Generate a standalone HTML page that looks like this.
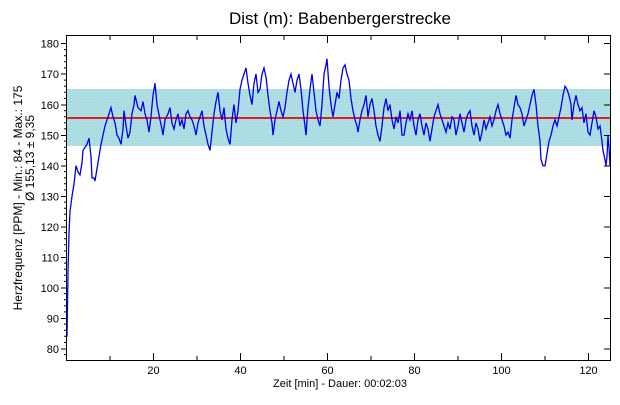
<!DOCTYPE html>
<html><head><style>
body{margin:0;background:#fff;}
svg text{font-family:"Liberation Sans",sans-serif;font-size:11px;fill:#000}
</style></head><body>
<svg width="620" height="400" viewBox="0 0 620 400" xmlns="http://www.w3.org/2000/svg">
<defs>
<pattern id="dots" width="3" height="3" patternUnits="userSpaceOnUse">
<rect width="3" height="3" fill="#a8dde4"/><rect x="0" y="0" width="1" height="1" fill="#c8c8f0"/><rect x="2" y="1" width="1" height="1" fill="#b0f0d0"/>
</pattern>
</defs>
<text x="340" y="24" text-anchor="middle" style="font-size:17px">Dist (m): Babenbergerstrecke</text>
<rect x="67" y="89" width="544" height="57" fill="url(#dots)"/>
<line x1="67" y1="118" x2="611" y2="118" stroke="#e02020" stroke-width="2"/>
<g transform="translate(0,593.4) scale(1,-3.055)">
<polyline fill="none" stroke="#0000ee" stroke-width="1.3" vector-effect="non-scaling-stroke" points="
67,84 68,105 69,118 70,125 72,130 74,134 76,140 78,138 80,137 82,141 83,145 85,146 87,147 89,149 91,143 92,136 94,136 95,135 97,139 99,143 101,147 103,150 105,153 107,155 109,157 111,159 113,156 115,154 117,150 119,149 121,147 123,152 124,158 126,153 128,149 130,151 132,157 134,160 135,163 138,159 141,158 143,161 145,157 147,155 149,151 151,156 153,163 155,167 157,160 160,155 162,152 163,150 165,155 168,157 170,159 172,154 174,152 176,155 178,157 180,153 182,155 184,152 186,157 188,158 190,156 192,155 194,153 196,150 198,154 200,156 202,158 204,153 206,150 208,147 210,145 212,151 214,157 216,161 218,164 220,158 222,155 224,159 226,152 228,149 230,147 232,155 234,160 236,154 238,158 240,165 242,168 244,170 246,172 248,167 250,163 252,160 254,167 256,170 258,164 260,165 262,170 264,172 266,169 268,163 270,158 272,154 273,150 275,155 277,158 279,161 281,158 283,156 285,159 287,164 289,168 291,170 293,167 295,164 297,168 299,170 301,165 303,158 305,153 306,150 308,159 310,165 312,170 314,164 316,158 318,155 320,153 322,160 324,170 326,173 327,175 329,166 331,160 333,156 335,160 337,164 339,162 341,168 343,172 345,173 347,170 349,168 351,162 353,158 355,155 357,153 358,151 360,155 362,158 364,160 366,163 368,156 370,160 372,162 374,158 376,153 378,150 380,148 382,153 384,159 386,162 388,158 390,160 392,155 394,152 396,156 398,154 400,158 402,150 404,150 406,154 408,157 410,155 412,158 414,153 416,150 418,155 420,157 422,153 424,150 426,154 428,152 430,148 432,152 434,156 436,158 438,160 440,157 442,155 444,153 446,151 448,154 450,152 452,156 454,155 456,150 458,153 460,157 462,154 464,151 466,155 468,157 470,158 472,153 474,150 476,154 478,152 480,148 482,151 484,155 486,152 488,154 490,156 492,153 494,155 496,158 498,160 500,157 502,155 504,153 506,150 508,151 510,149 512,155 514,159 516,163 518,160 520,159 522,157 524,153 526,155 528,157 530,160 532,163 534,165 536,160 538,153 540,148 541,142 543,140 545,140 547,144 549,148 551,150 553,153 555,155 557,153 559,156 561,159 563,163 565,166 567,165 569,163 571,160 572,155 574,160 576,163 578,160 580,158 582,159 584,154 586,157 588,151 590,150 592,154 594,158 596,156 598,152 600,153 602,148 603,145 605,142 606,140 607,143 608,150 609,146 610,140"/>
</g>
<rect x="66.5" y="35.5" width="544" height="325" fill="none" stroke="#000" stroke-width="1"/>
<g stroke="#000" stroke-width="1">
<!-- y ticks -->
<path d="M61,43.5H67 M61,74H67 M61,105H67 M61,135.5H67 M61,166H67 M61,196.5H67 M61,227H67 M61,257.5H67 M61,288H67 M61,318.5H67 M61,349H67"/>
<path d="M64,49.6H67 M64,55.7H67 M64,61.8H67 M64,67.9H67 M64,80.1H67 M64,86.2H67 M64,92.3H67 M64,98.4H67 M64,110.6H67 M64,116.7H67 M64,122.8H67 M64,128.9H67 M64,141.1H67 M64,147.2H67 M64,153.3H67 M64,159.4H67 M64,171.6H67 M64,177.7H67 M64,183.8H67 M64,189.9H67 M64,202.1H67 M64,208.2H67 M64,214.3H67 M64,220.4H67 M64,232.6H67 M64,238.7H67 M64,244.8H67 M64,250.9H67 M64,263.1H67 M64,269.2H67 M64,275.3H67 M64,281.4H67 M64,293.6H67 M64,299.7H67 M64,305.8H67 M64,311.9H67 M64,324.1H67 M64,330.2H67 M64,336.3H67 M64,342.4H67 M64,354.6H67"/>
<path d="M604,43.5H611 M604,74H611 M604,105H611 M604,135.5H611 M604,166H611 M604,196.5H611 M604,227H611 M604,257.5H611 M604,288H611 M604,318.5H611 M604,349H611"/>
<!-- x ticks -->
<path d="M153.5,361V353 M240.5,361V353 M327.5,361V353 M414.5,361V353 M501.5,361V353 M588.5,361V353 M110,361V356 M197,361V356 M284,361V356 M371,361V356 M458,361V356 M545,361V356"/>
<path d="M153.5,36V43 M240.5,36V43 M327.5,36V43 M414.5,36V43 M501.5,36V43 M588.5,36V43 M110,36V40 M197,36V40 M284,36V40 M371,36V40 M458,36V40 M545,36V40"/>
</g>
<g text-anchor="end">
<text x="59" y="47.5">180</text><text x="59" y="78">170</text><text x="59" y="109">160</text><text x="59" y="139.5">150</text><text x="59" y="170">140</text><text x="59" y="200.5">130</text><text x="59" y="231">120</text><text x="59" y="261.5">110</text><text x="59" y="292">100</text><text x="59" y="322.5">90</text><text x="59" y="353">80</text>
</g>
<g text-anchor="middle">
<text x="153.5" y="374">20</text><text x="240.5" y="374">40</text><text x="327.5" y="374">60</text><text x="414.5" y="374">80</text><text x="501.5" y="374">100</text><text x="588.5" y="374">120</text>
<text x="340" y="387">Zeit [min] - Dauer: 00:02:03</text>
</g>
<text transform="translate(22,198) rotate(-90)" text-anchor="middle" style="font-size:12px">Herzfrequenz [PPM] - Min.: 84 - Max.: 175</text>
<text transform="translate(34,158) rotate(-90)" text-anchor="middle" style="font-size:12px">Ø 155,13 ± 9,35</text>
</svg>
</body></html>
